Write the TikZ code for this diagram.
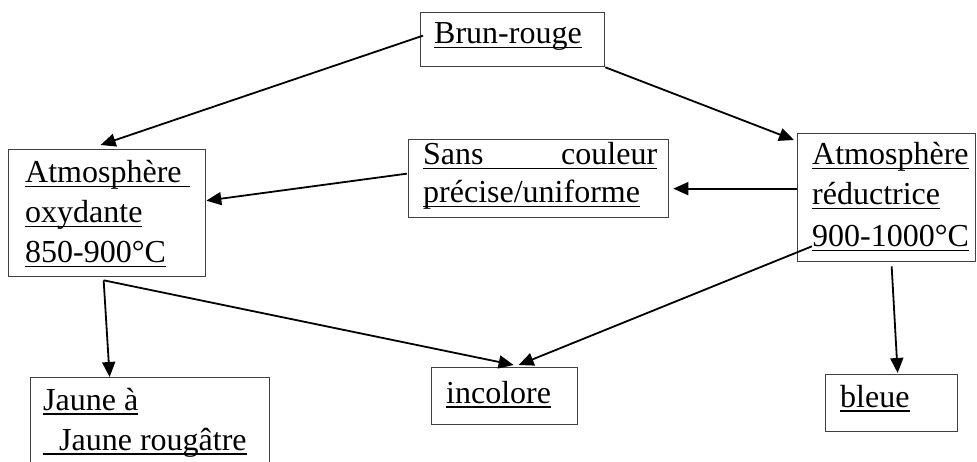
\documentclass[tikz,border=0pt]{standalone}
\usepackage{fontspec}
\setmainfont{Liberation Serif}
\usetikzlibrary{arrows.meta}
\newcommand\myul[1]{\setbox0\hbox{#1}\rlap{\rule[-4.5pt]{\wd0}{1.6pt}}\box0}
\begin{document}
\begin{tikzpicture}[x=1pt,y=-1pt,
  box/.style={draw=black!75, line width=1.3pt, rectangle, inner sep=0pt, anchor=north west},
  txt/.style={anchor=base west, inner sep=0pt, font=\fontsize{32}{40}\selectfont},
  arr/.style={-{Triangle[length=15pt,width=13pt]}, line width=1.8pt}]
\useasboundingbox (0,0) rectangle (977,462);
% boxes
\node[box, minimum width=184pt, minimum height=54pt] (brun) at (420,12) {};
\node[box, minimum width=197pt, minimum height=127pt] (oxy) at (8,149) {};
\node[box, minimum width=260pt, minimum height=78pt] (sans) at (408,139) {};
\node[box, minimum width=178pt, minimum height=128pt] (red) at (797,133) {};
\node[box, minimum width=239pt, minimum height=100pt] (jaune) at (30,377) {};
\node[box, minimum width=146pt, minimum height=57pt] (incol) at (431,367) {};
\node[box, minimum width=132pt, minimum height=57pt] (bleue) at (825,374) {};
% texts
\node[txt] (t1) at (434,44) {\myul{Brun-rouge}};
\node[txt] (t2a) at (25,183) {\myul{Atmosphère\ }};
\node[txt] (t2b) at (25,223) {\myul{oxydante}};
\node[txt] (t2c) at (25,263) {\myul{850-900°C}};
\node[txt] (t3a) at (423,165) {\myul{\hbox to 234pt{Sans\hfill couleur}}};
\node[txt] (t3b) at (423,203) {\myul{précise/uniforme}};
\node[txt] (t4a) at (812,165) {\myul{Atmosphère}};
\node[txt] (t4b) at (812,205) {\myul{réductrice}};
\node[txt] (t4c) at (812,247) {\myul{900-1000°C}};
\node[txt] (t5a) at (43,410) {\myul{Jaune à}};
\node[txt] (t5b) at (43,450) {\myul{\hspace{16pt}Jaune rougâtre}};
\node[txt] (t6) at (446,403) {\myul{incolore}};
\node[txt] (t7) at (840,407) {\myul{bleue}};
% connectors
\draw[arr] ([shift={(3,-4)}]brun.west) -- ([shift={(-6.5,-4)}]oxy.north);
\draw[arr] (brun.south east) -- ([shift={(-3,7)}]red.north west);
\draw[arr] ([shift={(-1,-5)}]sans.west) -- ([shift={(0,-12.5)}]oxy.east);
\draw[arr] ([shift={(0,-9)}]red.west) -- ([shift={(4,10)}]sans.east);
\draw[arr] ([shift={(-3.5,3)}]oxy.south) -- ([shift={(-40.5,0)}]jaune.north);
\draw[arr] ([shift={(-3.5,3)}]oxy.south) -- ([shift={(9,-2)}]incol.north);
\draw[arr] ([shift={(15,-16)}]red.south west) -- ([shift={(14,-2)}]incol.north);
\draw[arr] ([shift={(5,4)}]red.south) -- ([shift={(6,-1)}]bleue.north);
\end{tikzpicture}
\end{document}
